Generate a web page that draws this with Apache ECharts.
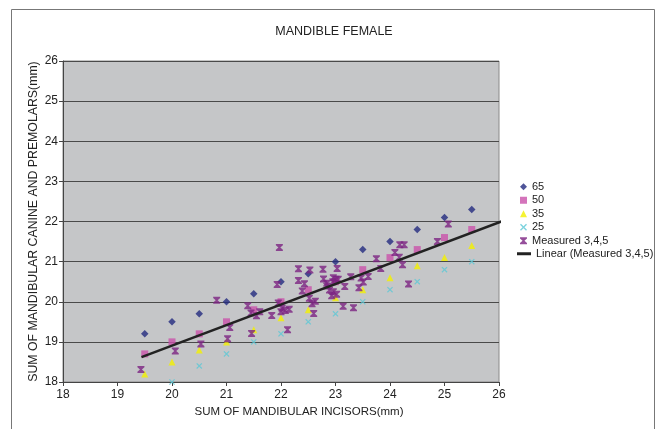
<!DOCTYPE html>
<html><head><meta charset="utf-8">
<script src="https://cdn.jsdelivr.net/npm/echarts@6/dist/echarts.min.js"></script>
<style>html,body{margin:0;padding:0;background:#fff}#c{width:659px;height:429px}</style>
</head><body><div id="c"></div>
<script>
var FONT = "'Liberation Sans',Arial,sans-serif";
var xs  = [19.5,20,20.5,21,21.5,22,22.5,23,23.5,24,24.5,25,25.5];
var p65 = [19.2,19.5,19.7,20.0,20.2,20.5,20.7,21.0,21.3,21.5,21.8,22.1,22.3];
var p50 = [18.7,19.0,19.2,19.5,19.8,20.0,20.3,20.5,20.8,21.1,21.3,21.6,21.8];
var p35 = [18.2,18.5,18.8,19.0,19.3,19.6,19.8,20.1,20.3,20.6,20.9,21.1,21.4];
var p25 = [null,18.0,18.4,18.7,19.0,19.2,19.5,19.7,20.0,20.3,20.5,20.8,21.0];
var measuredX = [19.43,20.06,20.53,20.82,21.02,21.06,21.39,21.45,21.46,21.55,21.61,21.83,21.93,21.97,21.95,22.02,22.0,22.08,22.15,22.12,22.32,22.32,22.43,22.39,22.53,22.52,22.63,22.57,22.60,22.77,22.78,22.84,22.84,22.89,22.96,22.93,23.02,22.95,22.96,23.01,23.05,23.03,23.14,23.33,23.17,23.28,23.43,23.47,23.51,23.60,23.75,23.83,24.09,24.17,24.18,24.26,24.23,24.34,24.87,25.07];
var measuredY = [18.31,18.77,18.95,20.04,19.08,19.36,19.90,19.72,19.21,19.65,19.75,19.66,20.43,21.35,19.97,19.84,19.75,19.78,19.81,19.30,20.82,20.53,20.45,20.27,20.79,20.09,20.01,19.95,19.71,20.81,20.57,20.46,20.39,20.29,20.25,20.15,20.19,20.50,20.60,20.56,20.56,20.83,19.89,19.85,20.38,20.62,20.35,20.59,20.49,20.63,21.07,20.83,21.23,21.11,21.42,21.42,20.92,20.44,21.50,21.94];
var trendX = [19.44, 26.1];
var trendY = [18.62, 22.03];
var markerNames = ['65','50','35','25','Measured 3,4,5'];
var lineName = 'Linear (Measured 3,4,5)';

function pairs(x, y){ var o=[]; for(var i=0;i<x.length;i++){ if(y[i]!=null) o.push([x[i],y[i]]); } return o; }
var hourglass = 'path://M0,0H10V1.8L6.4,5L10,8.2V10H0V8.2L3.6,5L0,1.8Z';
var cross = 'path://M0,1.4L1.4,0L5,3.6L8.6,0L10,1.4L6.4,5L10,8.6L8.6,10L5,6.4L1.4,10L0,8.6L3.6,5Z';
var legendText = {fontFamily:FONT, fontSize:11, color:'#222', lineHeight:13.5};

var chart = echarts.init(document.getElementById('c'), null, {renderer:'canvas'});
chart.setOption({
  animation:false,
  backgroundColor:'#fff',
  title:{text:'MANDIBLE FEMALE', left:329, top:20, textAlign:'center',
    textStyle:{fontFamily:FONT, fontSize:12.5, fontWeight:'normal', color:'#222'}},
  graphic:[{type:'rect', shape:{x:11.5,y:9.5,width:643,height:430}, style:{fill:null, stroke:'#777', lineWidth:1}, silent:true}],
  grid:{left:63, right:160, top:61, bottom:47, show:true, backgroundColor:'#c5c6c8', borderColor:'#8a8a8a', borderWidth:1},
  legend:[
    {orient:'vertical', left:520, top:180, padding:0, itemWidth:7, itemHeight:7, itemGap:0,
     data:markerNames, textStyle:legendText},
    {orient:'vertical', left:517, top:247, padding:0, itemWidth:14, itemHeight:3, itemGap:0,
     data:[{name:lineName, icon:'path://M0,0H14V3H0Z'}], textStyle:legendText}
  ],
  xAxis:{type:'value', min:18, max:26, interval:1,
    name:'SUM OF MANDIBULAR INCISORS(mm)', nameLocation:'middle', nameGap:22,
    nameTextStyle:{fontFamily:FONT, fontSize:11.5, color:'#222', padding:[0,0,0,36]},
    axisLine:{lineStyle:{color:'#444', width:1}}, axisTick:{show:true, length:4, lineStyle:{color:'#444'}},
    axisLabel:{fontFamily:FONT, fontSize:12, color:'#222', margin:7},
    splitLine:{show:false}},
  yAxis:{type:'value', min:18, max:26, interval:1,
    name:'SUM OF MANDIBULAR CANINE AND PREMOLARS(mm)', nameLocation:'middle', nameGap:23, nameMoveOverlap:false,
    nameTextStyle:{fontFamily:FONT, fontSize:12.3, color:'#222'},
    axisLine:{show:true, lineStyle:{color:'#444', width:1}}, axisTick:{show:true, length:4, lineStyle:{color:'#444'}},
    axisLabel:{fontFamily:FONT, fontSize:12, color:'#222', margin:5},
    splitLine:{show:true, lineStyle:{color:'#4a4a4a', width:1}}},
  series:[
    {name:'65', type:'scatter', symbol:'diamond', symbolSize:7.5, itemStyle:{color:'#232a80'}, data:pairs(xs,p65), z:3},
    {name:'50', type:'scatter', symbol:'rect', symbolSize:7, itemStyle:{color:'#c951aa'}, data:pairs(xs,p50), z:3},
    {name:'35', type:'scatter', symbol:'triangle', symbolSize:7, itemStyle:{color:'#f2f000'}, data:pairs(xs,p35), z:3},
    {name:'25', type:'scatter', symbol:cross, symbolSize:6, itemStyle:{color:'#5cc8d6'}, data:pairs(xs,p25), z:3},
    {name:'Measured 3,4,5', type:'scatter', symbol:hourglass, symbolSize:7, itemStyle:{color:'#7c2382'}, data:pairs(measuredX,measuredY), z:4},
    {name:lineName, type:'line', symbol:'none', clip:false, lineStyle:{color:'#222', width:2.5}, itemStyle:{color:'#222'}, data:pairs(trendX,trendY), z:5}
  ]
});
</script></body></html>
